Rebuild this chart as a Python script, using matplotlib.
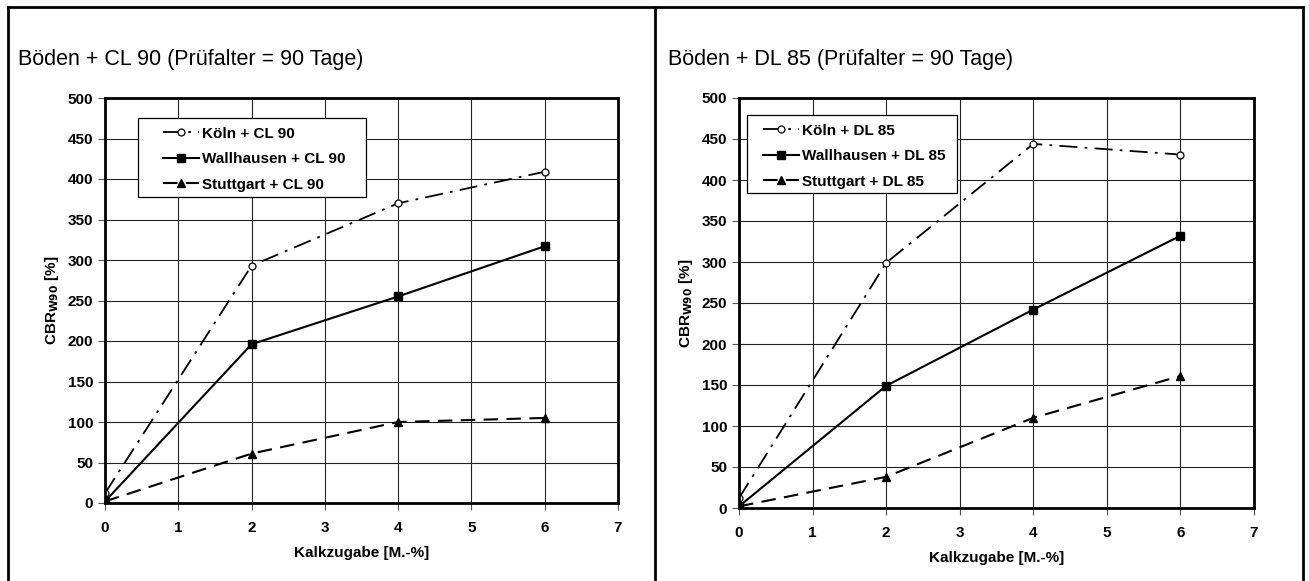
import numpy as np
import matplotlib
matplotlib.use("Agg")
from matplotlib import pyplot as plt
from matplotlib.lines import Line2D
from matplotlib.patches import Rectangle

plt.rcParams['font.family'] = ['Liberation Sans', 'DejaVu Sans']

# Kalkzugabe [M.-%]
kalk = [0, 2, 4, 6]

# CBR W90 mit CL 90
koeln_cl = [12, 293, 370, 409]
wallh_cl = [2, 196, 255, 317]
stutt_cl = [2, 61, 100, 105]

# CBR W90 mit DL 85
koeln_dl = [12, 299, 444, 431]
wallh_dl = [2, 149, 242, 332]
stutt_dl = [2, 38, 110, 161]

titles = ["Böden + CL 90 (Prüfalter = 90 Tage)", "Böden + DL 85 (Prüfalter = 90 Tage)"]
labels_cl = ["Köln + CL 90", "Wallhausen + CL 90", "Stuttgart + CL 90"]
labels_dl = ["Köln + DL 85", "Wallhausen + DL 85", "Stuttgart + DL 85"]

W, H = 1309, 581
fig = plt.figure(figsize=(W / 100, H / 100), dpi=100)

def fx(px):
    return px / W

def fy(py):
    return 1 - py / H

# Rahmen der beiden Felder
frame = dict(color='black', lw=2, transform=fig.transFigure, clip_on=False)
fig.add_artist(Line2D([fx(8), fx(1303)], [fy(7), fy(7)], **frame))
for xp in (8, 655, 1303):
    fig.add_artist(Line2D([fx(xp), fx(xp)], [fy(7), 0], **frame))

# Achsen in Pixeln, Titelposition, Daten, Legendenkasten, Einzug der Legende
panels = [
    ((105, 98, 618, 503), 18, titles[0], (koeln_cl, wallh_cl, stutt_cl), labels_cl,
     (138, 118, 366, 197), 20),
    ((739, 98, 1254, 508), 668, titles[1], (koeln_dl, wallh_dl, stutt_dl), labels_dl,
     (747, 115, 957, 193), 11),
]

for (x0, y0, x1, y1), tx, title, series, labels, leg, indent in panels:
    ax = fig.add_axes([fx(x0), fy(y1), fx(x1 - x0), fy(y0) - fy(y1)])
    fig.text(fx(tx), fy(60), title, fontsize=15.5, ha='left', va='center')

    koeln, wallh, stutt = series
    ax.plot(kalk, koeln, color='black', lw=1.3, dashes=(10, 4, 1.5, 4),
            marker='o', ms=5, mfc='white', mec='black', mew=0.9, label=labels[0])
    ax.plot(kalk, wallh, color='black', lw=1.5, ls='-',
            marker='s', ms=6, mfc='black', mec='black', label=labels[1])
    ax.plot(kalk, stutt, color='black', lw=1.5, dashes=(7, 4),
            marker='^', ms=6, mfc='black', mec='black', label=labels[2])

    ax.set_xlim(0, 7)
    ax.set_ylim(0, 500)
    ax.set_xticks(np.arange(0, 8, 1))
    ax.set_yticks(np.arange(0, 501, 50))
    ax.grid(True, color='#222222', lw=0.8)
    ax.set_axisbelow(True)
    for s in ax.spines.values():
        s.set_linewidth(2)
    ax.tick_params(direction='out', length=5, width=0.8, color='#555555',
                   labelsize=11)
    for lab in ax.get_xticklabels() + ax.get_yticklabels():
        lab.set_fontweight('bold')
    ax.tick_params(axis='x', pad=8)

    ax.set_xlabel("Kalkzugabe [M.-%]", fontsize=11, fontweight='bold', labelpad=8)
    ax.set_ylabel(r"CBR$_{\mathbf{W90}}$ [%]", fontsize=11, fontweight='bold', labelpad=5)

    # Legendenkasten
    lx0, ly0, lx1, ly1 = leg
    wx, wy = x1 - x0, y1 - y0
    box = Rectangle(((lx0 - x0) / wx, 1 - (ly1 - y0) / wy),
                    (lx1 - lx0) / wx, (ly1 - ly0) / wy,
                    transform=ax.transAxes, facecolor='white', edgecolor='black',
                    lw=0.9, zorder=4)
    ax.add_patch(box)
    lg = ax.legend(loc='upper left',
                   bbox_to_anchor=((lx0 + indent - x0) / wx, 1 - (ly0 + 4 - y0) / wy),
                   frameon=False, borderaxespad=0, borderpad=0.3,
                   handlelength=2.4, handletextpad=0.15, labelspacing=0.75,
                   prop={'weight': 'bold', 'size': 11})
    lg.set_zorder(5)

fig.savefig("out.png", dpi=100)
